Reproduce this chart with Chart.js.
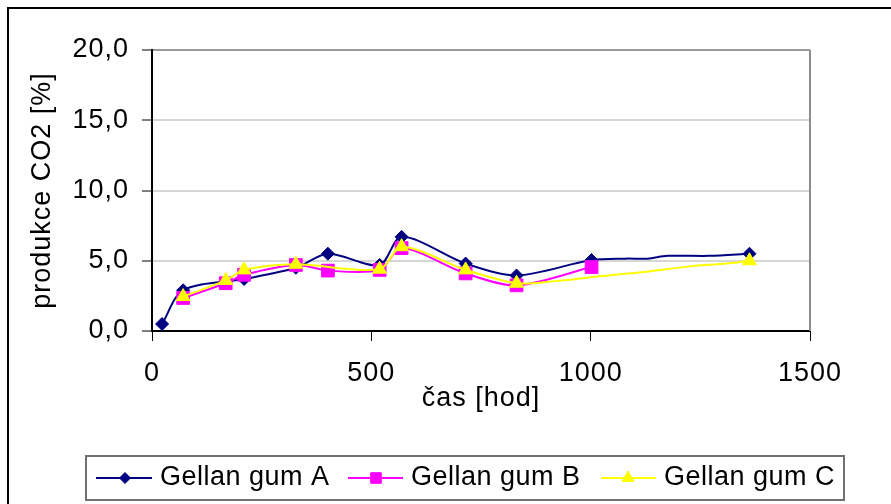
<!DOCTYPE html>
<html><head><meta charset="utf-8">
<script src="https://cdn.jsdelivr.net/npm/chart.js@4/dist/chart.umd.min.js"></script>
<style>html,body{margin:0;padding:0;background:#fff;overflow:hidden}canvas{display:block}</style>
</head><body>
<canvas id="c" width="891" height="504"></canvas>
<script>
// ---- data ----
const seriesNames = ['Gellan gum A', 'Gellan gum B', 'Gellan gum C'];

const aX = [23, 71, 210, 328, 401, 519, 569, 715, 831, 1002, 1080, 1130, 1175, 1270, 1362];
const aY = [0.5, 2.9, 3.7, 4.5, 5.5, 4.7, 6.7, 4.8, 3.95, 5.05, 5.15, 5.15, 5.35, 5.35, 5.5];
const aMarked = [1, 1, 1, 1, 1, 1, 1, 1, 1, 1, 0, 0, 0, 0, 1];

const bX = [71, 168, 210, 328, 401, 519, 569, 715, 831, 1002];
const bY = [2.35, 3.4, 4.0, 4.7, 4.3, 4.35, 5.9, 4.1, 3.25, 4.55];
const bMarked = [1, 1, 1, 1, 1, 1, 1, 1, 1, 1];

const cX = [71, 168, 210, 328, 519, 569, 715, 831, 920, 1005, 1120, 1226, 1310, 1362];
const cY = [2.45, 3.6, 4.35, 4.75, 4.4, 6.0, 4.35, 3.4, 3.55, 3.85, 4.2, 4.6, 4.8, 5.0];
const cMarked = [1, 1, 1, 1, 1, 1, 1, 1, 0, 0, 0, 0, 0, 1];

const xTicks = [0, 500, 1000, 1500];
const xTickLabels = ['0', '500', '1000', '1500'];
const yTicks = [0, 5, 10, 15, 20];
const yTickLabels = ['0,0', '5,0', '10,0', '15,0', '20,0'];
const xTitle = 'čas [hod]';
const yTitle = 'produkce CO2 [%]';

// ---- styles ----
const FONT = '"Liberation Sans", Arial, sans-serif';
const FS = 27;
const colors = ['#000080', '#ff00ff', '#ffff00'];
const styles = ['rectRot', 'rect', 'triangle'];
const radii = [6.5, 9, 8];
const legendRadii = [5.5, 7.5, 7];

function toPts(xs, ys) { return xs.map((x, i) => ({ x: x, y: ys[i] })); }
function makeDataset(i, xs, ys, marks) {
  return {
    label: seriesNames[i],
    data: toPts(xs, ys),
    borderColor: colors[i],
    backgroundColor: colors[i],
    borderWidth: 2,
    pointStyle: styles[i],
    pointRadius: c => (marks[c.dataIndex] ? radii[i] : 0),
    pointHoverRadius: c => (marks[c.dataIndex] ? radii[i] : 0),
    pointBorderWidth: 1,
    pointBorderColor: colors[i],
    pointBackgroundColor: colors[i],
    tension: 0.3,
    order: 2 - i,
    clip: false
  };
}

const spacingPlugin = {
  id: 'spacing',
  beforeDraw(chart) { chart.ctx.letterSpacing = '1px'; }
};

const framePlugin = {
  id: 'frame',
  beforeDatasetsDraw(chart) {
    const ctx = chart.ctx, a = chart.chartArea;
    ctx.save();
    ctx.strokeStyle = '#8c8c8c';
    ctx.lineWidth = 2;
    ctx.beginPath();
    ctx.moveTo(a.right, a.top);
    ctx.lineTo(a.right, a.bottom);
    ctx.stroke();
    ctx.restore();
  },
  afterDraw(chart) {
    const ctx = chart.ctx;
    ctx.save();
    // outer chart border
    ctx.strokeStyle = '#000';
    ctx.lineWidth = 2;
    ctx.beginPath();
    ctx.moveTo(8, 504);
    ctx.lineTo(8, 8);
    ctx.lineTo(891, 8);
    ctx.stroke();
    // legend
    ctx.strokeStyle = '#707070';
    ctx.lineWidth = 2;
    ctx.strokeRect(86, 456, 758, 44);
    const items = [
      { x0: 96, x1: 152, mx: 125, tx: 160 },
      { x0: 348, x1: 403, mx: 376, tx: 411 },
      { x0: 601, x1: 656, mx: 628, tx: 664 }
    ];
    const y = 478;
    items.forEach((it, i) => {
      ctx.strokeStyle = colors[i];
      ctx.lineWidth = 2;
      ctx.beginPath();
      ctx.moveTo(it.x0, y);
      ctx.lineTo(it.x1, y);
      ctx.stroke();
      ctx.fillStyle = colors[i];
      ctx.strokeStyle = colors[i];
      ctx.lineWidth = 1;
      Chart.helpers.drawPoint(ctx, { pointStyle: styles[i], radius: legendRadii[i], rotation: 0, borderWidth: 1 }, it.mx, y);
      ctx.fillStyle = '#000';
      ctx.font = FS + 'px ' + FONT;
      ctx.letterSpacing = '0.5px';
      ctx.textBaseline = 'middle';
      ctx.textAlign = 'left';
      ctx.fillText(seriesNames[i], it.tx, y);
    });
    ctx.restore();
  }
};

new Chart(document.getElementById('c'), {
  type: 'line',
  data: {
    datasets: [
      makeDataset(0, aX, aY, aMarked),
      makeDataset(1, bX, bY, bMarked),
      makeDataset(2, cX, cY, cMarked)
    ]
  },
  options: {
    responsive: false,
    animation: false,
    events: [],
    layout: { padding: { left: 0, top: 50, right: 81, bottom: 83 } },
    plugins: { legend: { display: false }, tooltip: { enabled: false } },
    scales: {
      x: {
        type: 'linear',
        min: 0, max: 1500,
        afterBuildTicks: s => { s.ticks = xTicks.map(v => ({ value: v })); },
        afterFit: s => { s.height = 90; },
        ticks: {
          callback: v => xTickLabels[xTicks.indexOf(v)],
          font: { family: FONT, size: FS },
          color: '#000',
          padding: 16,
          maxRotation: 0,
          autoSkip: false
        },
        grid: { drawOnChartArea: false, drawTicks: true, tickLength: 10, tickColor: '#000', tickWidth: 1 },
        border: { display: true, color: '#000', width: 2 },
        title: { display: true, text: xTitle, font: { family: FONT, size: FS }, color: '#000', padding: { top: 0, bottom: 6 } }
      },
      y: {
        type: 'linear',
        min: 0, max: 20,
        afterBuildTicks: s => { s.ticks = yTicks.map(v => ({ value: v })); },
        afterFit: s => { s.width = 152; },
        ticks: {
          callback: v => yTickLabels[yTicks.indexOf(v)],
          font: { family: FONT, size: FS },
          color: '#000',
          padding: 13,
          autoSkip: false
        },
        grid: {
          color: c => (c.tick && c.tick.value === 20 ? '#999999' : (c.tick && c.tick.value === 0 ? 'rgba(0,0,0,0)' : '#d6d6d6')),
          lineWidth: 2,
          drawTicks: true, tickLength: 10, tickColor: '#000', tickWidth: 1
        },
        border: { display: true, color: '#000', width: 2 },
        title: { display: true, text: yTitle, font: { family: FONT, size: FS }, color: '#000', padding: { top: 26, bottom: 0 } }
      }
    }
  },
  plugins: [spacingPlugin, framePlugin]
});
</script>
</body></html>
